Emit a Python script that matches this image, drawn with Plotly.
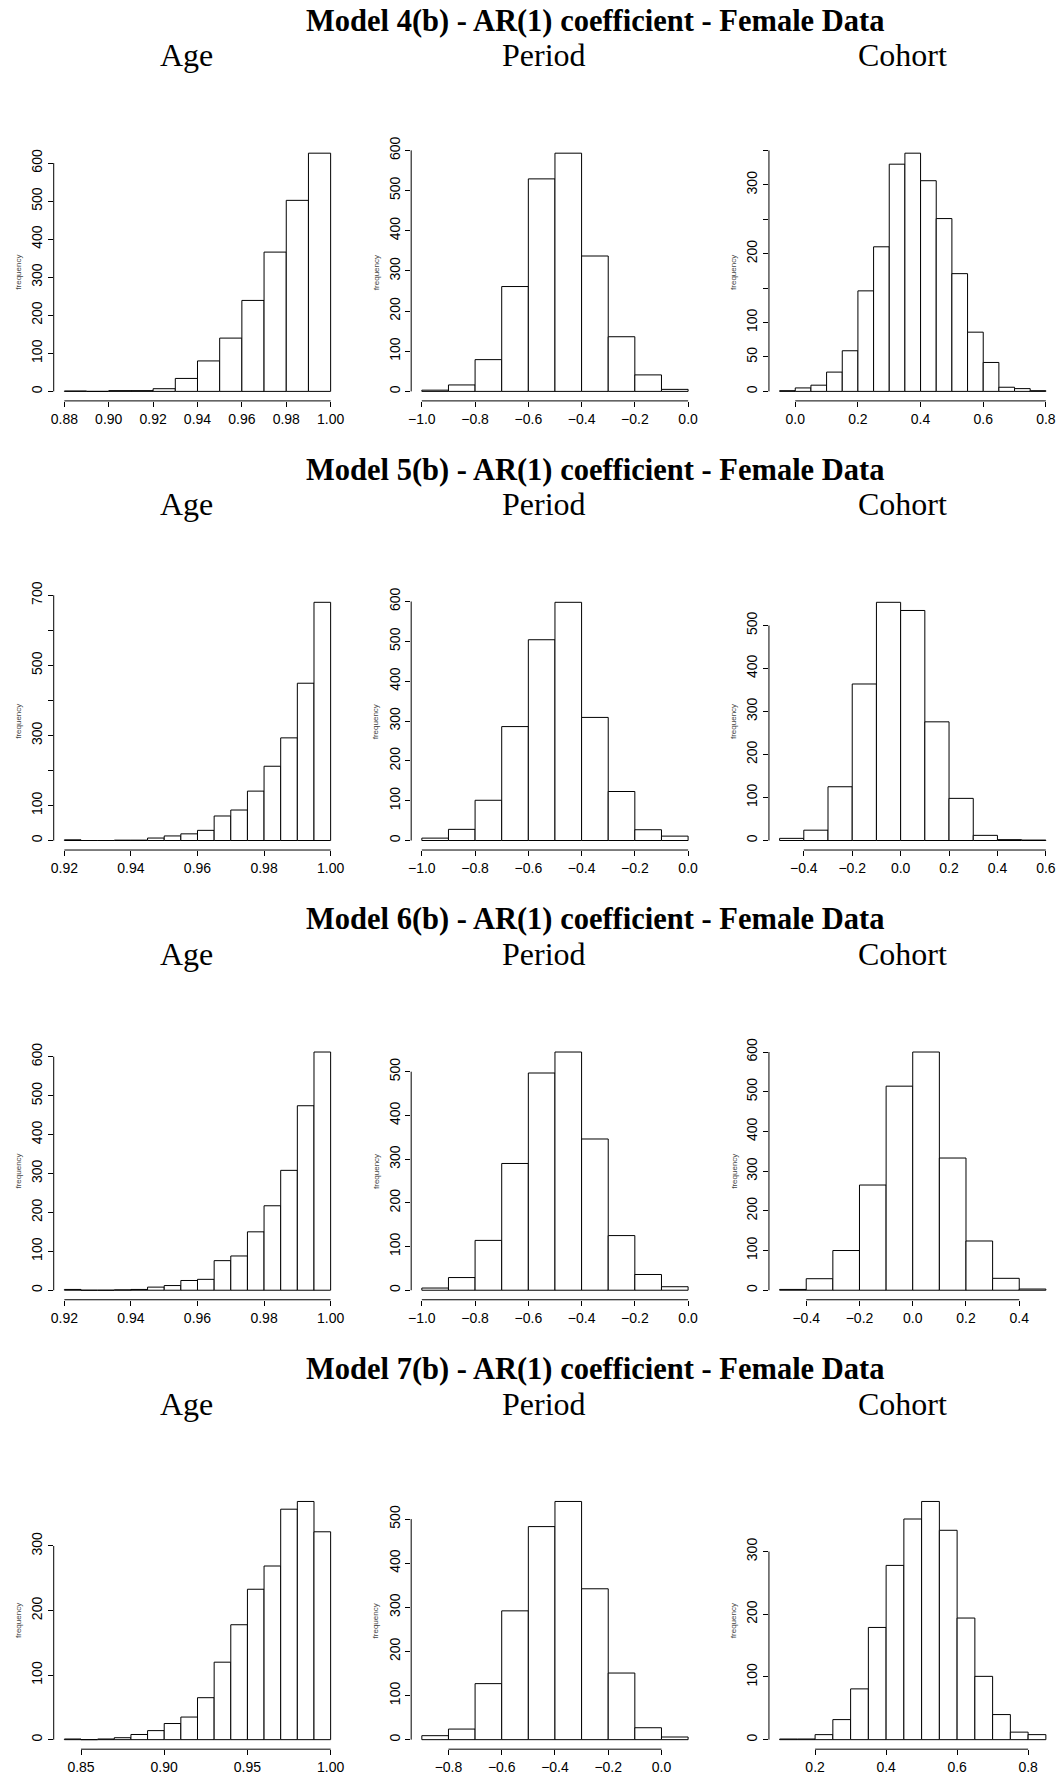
import plotly.graph_objects as go

W, H = 1063, 1775

model_titles = [
    "Model 4(b) - AR(1) coefficient - Female Data",
    "Model 5(b) - AR(1) coefficient - Female Data",
    "Model 6(b) - AR(1) coefficient - Female Data",
    "Model 7(b) - AR(1) coefficient - Female Data",
]
column_titles = ["Age", "Period", "Cohort"]

# ---------------- Model 4(b) ----------------
m4_age_start, m4_age_width = 0.88, 0.01
m4_age_counts = [1, 0, 2, 2, 7, 34, 80, 140, 239, 366, 502, 626]
m4_age_xlabels = ["0.88", "0.90", "0.92", "0.94", "0.96", "0.98", "1.00"]
m4_age_yticks = [0, 100, 200, 300, 400, 500, 600]
m4_age_ylabels = ["0", "100", "200", "300", "400", "500", "600"]

m4_per_start, m4_per_width = -1.0, 0.1
m4_per_counts = [3, 16, 79, 261, 529, 593, 337, 136, 41, 5]
m4_per_xlabels = ["−1.0", "−0.8", "−0.6", "−0.4", "−0.2", "0.0"]
m4_per_yticks = [0, 100, 200, 300, 400, 500, 600]
m4_per_ylabels = ["0", "100", "200", "300", "400", "500", "600"]

m4_coh_start, m4_coh_width = -0.05, 0.05
m4_coh_counts = [1, 5, 9, 28, 59, 146, 210, 330, 346, 306, 251, 171, 86, 42, 6, 4, 1]
m4_coh_xlabels = ["0.0", "0.2", "0.4", "0.6", "0.8"]
m4_coh_yticks = [0, 50, 100, 150, 200, 250, 300, 350]
m4_coh_ylabels = ["0", "50", "100", "", "200", "", "300", ""]

# ---------------- Model 5(b) ----------------
m5_age_start, m5_age_width = 0.92, 0.005
m5_age_counts = [2, 0, 0, 1, 1, 7, 13, 19, 29, 70, 87, 141, 212, 293, 449, 680]
m5_age_xlabels = ["0.92", "0.94", "0.96", "0.98", "1.00"]
m5_age_yticks = [0, 100, 200, 300, 400, 500, 600, 700]
m5_age_ylabels = ["0", "100", "", "300", "", "500", "", "700"]

m5_per_start, m5_per_width = -1.0, 0.1
m5_per_counts = [6, 28, 101, 286, 504, 598, 309, 123, 27, 11]
m5_per_xlabels = ["−1.0", "−0.8", "−0.6", "−0.4", "−0.2", "0.0"]
m5_per_yticks = [0, 100, 200, 300, 400, 500, 600]
m5_per_ylabels = ["0", "100", "200", "300", "400", "500", "600"]

m5_coh_start, m5_coh_width = -0.5, 0.1
m5_coh_counts = [5, 24, 125, 364, 554, 535, 276, 98, 12, 2, 1]
m5_coh_xlabels = ["−0.4", "−0.2", "0.0", "0.2", "0.4", "0.6"]
m5_coh_yticks = [0, 100, 200, 300, 400, 500]
m5_coh_ylabels = ["0", "100", "200", "300", "400", "500"]

# ---------------- Model 6(b) ----------------
m6_age_start, m6_age_width = 0.92, 0.005
m6_age_counts = [2, 0, 0, 1, 2, 8, 12, 25, 28, 76, 88, 150, 217, 308, 474, 612]
m6_age_xlabels = ["0.92", "0.94", "0.96", "0.98", "1.00"]
m6_age_yticks = [0, 100, 200, 300, 400, 500, 600]
m6_age_ylabels = ["0", "100", "200", "300", "400", "500", "600"]

m6_per_start, m6_per_width = -1.0, 0.1
m6_per_counts = [5, 29, 114, 290, 497, 545, 346, 125, 36, 8]
m6_per_xlabels = ["−1.0", "−0.8", "−0.6", "−0.4", "−0.2", "0.0"]
m6_per_yticks = [0, 100, 200, 300, 400, 500]
m6_per_ylabels = ["0", "100", "200", "300", "400", "500"]

m6_coh_start, m6_coh_width = -0.5, 0.1
m6_coh_counts = [2, 29, 100, 265, 514, 600, 333, 124, 30, 3]
m6_coh_xlabels = ["−0.4", "−0.2", "0.0", "0.2", "0.4"]
m6_coh_yticks = [0, 100, 200, 300, 400, 500, 600]
m6_coh_ylabels = ["0", "100", "200", "300", "400", "500", "600"]

# ---------------- Model 7(b) ----------------
m7_age_start, m7_age_width = 0.84, 0.01
m7_age_counts = [1, 0, 1, 3, 8, 14, 25, 35, 65, 120, 178, 233, 269, 357, 369, 322]
m7_age_xlabels = ["0.85", "0.90", "0.95", "1.00"]
m7_age_yticks = [0, 100, 200, 300]
m7_age_ylabels = ["0", "100", "200", "300"]

m7_per_start, m7_per_width = -0.9, 0.1
m7_per_counts = [9, 24, 127, 292, 483, 540, 342, 151, 27, 6]
m7_per_xlabels = ["−0.8", "−0.6", "−0.4", "−0.2", "0.0"]
m7_per_yticks = [0, 100, 200, 300, 400, 500]
m7_per_ylabels = ["0", "100", "200", "300", "400", "500"]

m7_coh_start, m7_coh_width = 0.10, 0.05
m7_coh_counts = [1, 1, 8, 32, 81, 179, 278, 352, 380, 334, 194, 101, 40, 12, 8]
m7_coh_xlabels = ["0.2", "0.4", "0.6", "0.8"]
m7_coh_yticks = [0, 100, 200, 300]
m7_coh_ylabels = ["0", "100", "200", "300"]

panels = [
    [
        (m4_age_start, m4_age_width, m4_age_counts, m4_age_xlabels, m4_age_yticks, m4_age_ylabels),
        (m4_per_start, m4_per_width, m4_per_counts, m4_per_xlabels, m4_per_yticks, m4_per_ylabels),
        (m4_coh_start, m4_coh_width, m4_coh_counts, m4_coh_xlabels, m4_coh_yticks, m4_coh_ylabels),
    ],
    [
        (m5_age_start, m5_age_width, m5_age_counts, m5_age_xlabels, m5_age_yticks, m5_age_ylabels),
        (m5_per_start, m5_per_width, m5_per_counts, m5_per_xlabels, m5_per_yticks, m5_per_ylabels),
        (m5_coh_start, m5_coh_width, m5_coh_counts, m5_coh_xlabels, m5_coh_yticks, m5_coh_ylabels),
    ],
    [
        (m6_age_start, m6_age_width, m6_age_counts, m6_age_xlabels, m6_age_yticks, m6_age_ylabels),
        (m6_per_start, m6_per_width, m6_per_counts, m6_per_xlabels, m6_per_yticks, m6_per_ylabels),
        (m6_coh_start, m6_coh_width, m6_coh_counts, m6_coh_xlabels, m6_coh_yticks, m6_coh_ylabels),
    ],
    [
        (m7_age_start, m7_age_width, m7_age_counts, m7_age_xlabels, m7_age_yticks, m7_age_ylabels),
        (m7_per_start, m7_per_width, m7_per_counts, m7_per_xlabels, m7_per_yticks, m7_per_ylabels),
        (m7_coh_start, m7_coh_width, m7_coh_counts, m7_coh_xlabels, m7_coh_yticks, m7_coh_ylabels),
    ],
]

# ---------------- layout geometry (pixels) ----------------
col_left = [51.0, 410.5, 770.3]
plot_w = 289.2
row_top = [133.7, 586.4, 1039.7, 1492.7]
plot_h = 259.3
col_title_x = [184.5, 544.5, 904.5]
main_title_x = 595.5
main_title_dy = 124.0
col_title_dy = 89.0

TICK_FONT = dict(family="Liberation Sans, Arial, Helvetica, sans-serif", size=14, color="black")
SERIF = "Liberation Serif, Times New Roman, serif"

fig = go.Figure()
layout = dict(
    width=W, height=H,
    margin=dict(l=0, r=0, t=0, b=0),
    paper_bgcolor="white", plot_bgcolor="white",
    showlegend=False,
    shapes=[], annotations=[],
)

def num(s):
    return float(s.replace("−", "-"))

k = 0
for r in range(4):
    top = row_top[r]
    layout["annotations"].append(dict(
        text="<b>" + model_titles[r] + "</b>", xref="paper", yref="paper",
        x=main_title_x / W, y=1 - (top - main_title_dy) / H,
        xanchor="center", yanchor="middle", showarrow=False,
        font=dict(family=SERIF, size=30.5, color="black")))
    for c in range(3):
        layout["annotations"].append(dict(
            text=column_titles[c], xref="paper", yref="paper",
            x=col_title_x[c] / W, y=1 - (top - col_title_dy) / H,
            xanchor="center", yanchor="middle", showarrow=False,
            font=dict(family=SERIF, size=32, color="black")))

    for c in range(3):
        k += 1
        start, width, counts, xlabels, yticks, ylabels = panels[r][c]
        n = len(counts)
        centers = [start + width * (i + 0.5) for i in range(n)]
        end = start + width * n
        span = end - start
        ymax = max(counts)
        xs = "" if k == 1 else str(k)
        xname, yname = "x" + xs, "y" + xs

        fig.add_trace(go.Bar(
            x=centers, y=counts, width=[width] * n, base=0,
            marker=dict(color="white", line=dict(color="black", width=1)),
            xaxis=xname, yaxis=yname, hoverinfo="skip", showlegend=False))

        xvals = [num(s) for s in xlabels]
        left = col_left[c]
        layout["xaxis" + xs] = dict(
            domain=[left / W, (left + plot_w) / W],
            anchor=yname,
            range=[start - 0.04 * span, end + 0.04 * span],
            showgrid=False, zeroline=False, showline=False,
            ticks="outside", ticklen=5, tickwidth=1, tickcolor="black",
            tickmode="array", tickvals=xvals, ticktext=xlabels,
            tickfont=TICK_FONT, fixedrange=True)
        layout["yaxis" + xs] = dict(
            domain=[1 - (top + plot_h) / H, 1 - top / H],
            anchor=xname,
            range=[-0.04 * ymax, 1.04 * ymax],
            showgrid=False, zeroline=False, showline=False,
            ticks="outside", ticklen=5, tickwidth=1, tickcolor="black",
            tickmode="array", tickvals=yticks, ticktext=ylabels,
            tickangle=-90, tickfont=TICK_FONT, fixedrange=True)
        # R-style axis lines spanning only from first to last tick
        layout["shapes"].append(dict(
            type="line", xref=xname, yref=yname + " domain",
            x0=xvals[0], x1=xvals[-1], y0=0, y1=0,
            line=dict(color="black", width=1)))
        layout["shapes"].append(dict(
            type="line", xref=xname + " domain", yref=yname,
            x0=0, x1=0, y0=yticks[0], y1=yticks[-1],
            line=dict(color="black", width=1)))
        # tiny y-axis label
        layout["annotations"].append(dict(
            text="frequency", xref="paper", yref="paper",
            x=(left - 35.5) / W, y=1 - (top + plot_h / 2) / H,
            xanchor="center", yanchor="middle", textangle=-90, showarrow=False,
            font=dict(family="Liberation Sans, Arial, sans-serif", size=8, color="#444")))

fig.update_layout(**layout)
fig.write_html("out.html")
